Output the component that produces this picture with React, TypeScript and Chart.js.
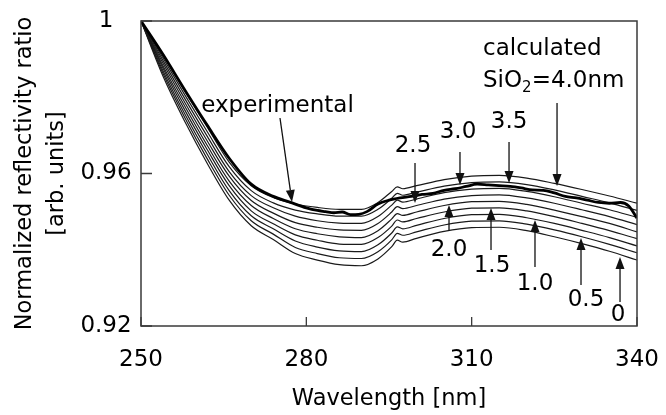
import React, { useEffect, useRef } from 'react';
import { Chart, registerables } from 'chart.js';

Chart.register(...registerables);

const FONT = '"DejaVu Sans", "Liberation Sans", sans-serif';

// Wavelength grid of the calculated curves (nm)
const wavelengthCalc = [250, 254, 258, 262, 266, 270, 274, 278, 282, 286, 290, 293, 295.5, 296.5, 297.5, 300, 305, 310, 315, 320, 325, 330, 335, 340];

// Calculated curves, SiO2 thickness 0 ... 4.0 nm
const calc00 = [1.0, 0.9855, 0.9735, 0.9627, 0.9530, 0.9463, 0.9427, 0.9390, 0.9373, 0.9361, 0.9358, 0.9376, 0.9408, 0.9425, 0.9420, 0.9430, 0.9448, 0.9458, 0.9459, 0.9450, 0.9434, 0.9416, 0.9396, 0.9373];
const calc05 = [1.0, 0.9862, 0.9745, 0.9639, 0.9543, 0.9476, 0.9441, 0.9406, 0.9390, 0.9379, 0.9377, 0.9395, 0.9426, 0.9443, 0.9438, 0.9447, 0.9465, 0.9475, 0.9476, 0.9467, 0.9452, 0.9434, 0.9414, 0.9392];
const calc10 = [1.0, 0.9869, 0.9755, 0.9651, 0.9555, 0.9489, 0.9455, 0.9423, 0.9407, 0.9397, 0.9395, 0.9413, 0.9444, 0.9460, 0.9455, 0.9464, 0.9482, 0.9492, 0.9493, 0.9484, 0.9469, 0.9451, 0.9432, 0.9410];
const calc15 = [1.0, 0.9876, 0.9765, 0.9663, 0.9568, 0.9502, 0.9468, 0.9439, 0.9425, 0.9415, 0.9414, 0.9432, 0.9462, 0.9478, 0.9473, 0.9482, 0.9499, 0.9509, 0.9510, 0.9502, 0.9487, 0.9469, 0.9450, 0.9429];
const calc20 = [1.0, 0.9882, 0.9775, 0.9674, 0.9580, 0.9516, 0.9482, 0.9455, 0.9442, 0.9434, 0.9432, 0.9450, 0.9481, 0.9495, 0.9490, 0.9499, 0.9516, 0.9526, 0.9527, 0.9519, 0.9504, 0.9487, 0.9469, 0.9447];
const calc25 = [1.0, 0.9889, 0.9785, 0.9686, 0.9593, 0.9529, 0.9496, 0.9471, 0.9459, 0.9452, 0.9451, 0.9469, 0.9499, 0.9513, 0.9508, 0.9516, 0.9533, 0.9542, 0.9544, 0.9536, 0.9522, 0.9505, 0.9487, 0.9466];
const calc30 = [1.0, 0.9896, 0.9795, 0.9698, 0.9605, 0.9542, 0.9510, 0.9488, 0.9476, 0.9470, 0.9469, 0.9487, 0.9517, 0.9530, 0.9525, 0.9533, 0.9550, 0.9559, 0.9561, 0.9553, 0.9539, 0.9522, 0.9505, 0.9485];
const calc35 = [1.0, 0.9903, 0.9805, 0.9710, 0.9618, 0.9555, 0.9523, 0.9504, 0.9494, 0.9488, 0.9488, 0.9506, 0.9535, 0.9548, 0.9543, 0.9551, 0.9567, 0.9576, 0.9578, 0.9571, 0.9557, 0.9540, 0.9523, 0.9503];
const calc40 = [1.0, 0.9910, 0.9815, 0.9722, 0.9630, 0.9568, 0.9537, 0.9520, 0.9511, 0.9506, 0.9506, 0.9524, 0.9553, 0.9565, 0.9560, 0.9568, 0.9584, 0.9593, 0.9595, 0.9588, 0.9574, 0.9558, 0.9541, 0.9522];

// Experimental curve
const wavelengthExp = [250, 254, 258, 262, 266, 270, 274, 277, 280, 282, 283.5, 285, 286.5, 288, 289.5, 291, 293, 295, 297, 299, 301, 303, 305, 307, 309, 311, 313, 315, 317, 319, 321, 323, 325, 327, 329, 331, 333, 335, 337, 338.5, 340];
const experimental = [1.0, 0.9912, 0.9818, 0.9727, 0.9640, 0.9572, 0.9540, 0.9525, 0.9510, 0.9503, 0.9500, 0.9497, 0.9499, 0.9492, 0.9493, 0.9500, 0.9520, 0.9530, 0.9536, 0.9540, 0.9545, 0.9548, 0.9556, 0.9560, 0.9566, 0.9572, 0.9570, 0.9568, 0.9566, 0.9562, 0.9557, 0.9556, 0.9549, 0.9540, 0.9536, 0.9530, 0.9524, 0.9522, 0.9524, 0.9515, 0.9483];

const calcSeries = [calc00, calc05, calc10, calc15, calc20, calc25, calc30, calc35, calc40];

// Axis ticks
const xTicks = [250, 280, 310, 340];
const yTicks = [0.92, 0.96, 1];
const xTickLabels = ['250', '280', '310', '340'];
const yTickLabels = ['0.92', '0.96', '1'];

// Annotation texts
const labelTexts = ['experimental', '2.5', '3.0', '3.5', '2.0', '1.5', '1.0', '0.5', '0'];
const labelX = [274.77, 299.36, 307.52, 316.78, 305.89, 313.69, 321.49, 330.75, 336.55];
const labelY = [0.97613, 0.96564, 0.96931, 0.97193, 0.93836, 0.93416, 0.92944, 0.92525, 0.92131];

// Arrows: start (x1,y1) -> tip (x2,y2)
const arrowX1 = [275.22, 299.72, 307.88, 316.78, 325.49, 305.89, 313.51, 321.49, 329.84, 336.92];
const arrowY1 = [0.97456, 0.96275, 0.96564, 0.96826, 0.97849, 0.94492, 0.93993, 0.93547, 0.93075, 0.92630];
const arrowX2 = [277.40, 299.72, 307.88, 316.78, 325.49, 305.89, 313.51, 321.49, 329.84, 336.92];
const arrowY2 = [0.95252, 0.95226, 0.95698, 0.95751, 0.95672, 0.95174, 0.95095, 0.94780, 0.94308, 0.93810];

const calcLabelX = 312.06;
const calcLine1Y = 0.99108;
const calcLine2Y = 0.98269;

function drawArrow(ctx: CanvasRenderingContext2D, x1: number, y1: number, x2: number, y2: number) {
  const ang = Math.atan2(y2 - y1, x2 - x1);
  const head = 12;
  const half = 4.5;
  const bx = x2 - head * Math.cos(ang);
  const by = y2 - head * Math.sin(ang);
  ctx.beginPath();
  ctx.moveTo(x1, y1);
  ctx.lineTo(bx, by);
  ctx.stroke();
  ctx.beginPath();
  ctx.moveTo(x2, y2);
  ctx.lineTo(bx + half * Math.sin(ang), by - half * Math.cos(ang));
  ctx.lineTo(bx - half * Math.sin(ang), by + half * Math.cos(ang));
  ctx.closePath();
  ctx.fill();
}

const annotationPlugin = {
  id: 'annotations',
  afterDatasetsDraw(chart: any) {
    const { ctx, chartArea, scales } = chart;
    const xs = scales.x;
    const ys = scales.y;
    ctx.save();
    // frame
    ctx.strokeStyle = '#3a3a3a';
    ctx.lineWidth = 1.5;
    ctx.strokeRect(chartArea.left, chartArea.top, chartArea.right - chartArea.left, chartArea.bottom - chartArea.top);
    // inward tick marks at the scale ticks
    ctx.lineWidth = 1.3;
    ctx.beginPath();
    xs.ticks.forEach((t: any) => {
      const px = xs.getPixelForValue(t.value);
      ctx.moveTo(px, chartArea.bottom);
      ctx.lineTo(px, chartArea.bottom - 9);
    });
    ys.ticks.forEach((t: any) => {
      const py = ys.getPixelForValue(t.value);
      ctx.moveTo(chartArea.left, py);
      ctx.lineTo(chartArea.left + 11, py);
    });
    ctx.stroke();

    ctx.strokeStyle = '#111';
    ctx.fillStyle = '#111';
    ctx.lineWidth = 1.3;
    for (let i = 0; i < arrowX1.length; i++) {
      drawArrow(
        ctx,
        xs.getPixelForValue(arrowX1[i]),
        ys.getPixelForValue(arrowY1[i]),
        xs.getPixelForValue(arrowX2[i]),
        ys.getPixelForValue(arrowY2[i])
      );
    }

    ctx.fillStyle = '#000';
    ctx.font = `23px ${FONT}`;
    ctx.textAlign = 'center';
    ctx.textBaseline = 'alphabetic';
    for (let i = 0; i < labelTexts.length; i++) {
      ctx.fillText(labelTexts[i], xs.getPixelForValue(labelX[i]), ys.getPixelForValue(labelY[i]));
    }

    // "calculated" / "SiO2=4.0nm"
    ctx.textAlign = 'left';
    const x0 = xs.getPixelForValue(calcLabelX);
    const b1 = ys.getPixelForValue(calcLine1Y);
    const b2 = ys.getPixelForValue(calcLine2Y);
    ctx.fillText('calculated', x0, b1);
    ctx.fillText('SiO', x0, b2);
    const w1 = ctx.measureText('SiO').width;
    ctx.font = `15px ${FONT}`;
    ctx.fillText('2', x0 + w1, b2 + 5);
    const w2 = ctx.measureText('2').width;
    ctx.font = `23px ${FONT}`;
    ctx.fillText('=4.0nm', x0 + w1 + w2, b2);
    ctx.restore();
  },
};

export default function App() {
  const canvasRef = useRef<HTMLCanvasElement | null>(null);

  useEffect(() => {
    document.body.style.margin = '0';
    const canvas = canvasRef.current;
    if (!canvas) return;

    const datasets: any[] = [
      {
        label: 'experimental',
        data: wavelengthExp.map((x, i) => ({ x, y: experimental[i] })),
        borderColor: '#000',
        borderWidth: 2.8,
        pointRadius: 0,
        cubicInterpolationMode: 'monotone',
        fill: false,
      },
    ];
    calcSeries.forEach((vals, k) => {
      datasets.push({
        label: `calculated ${(k * 0.5).toFixed(1)} nm`,
        data: wavelengthCalc.map((x, i) => ({ x, y: vals[i] })),
        borderColor: '#1a1a1a',
        borderWidth: 1.2,
        pointRadius: 0,
        cubicInterpolationMode: 'monotone',
        fill: false,
      });
    });

    const chart = new Chart(canvas, {
      type: 'line',
      data: { datasets },
      options: {
        animation: false,
        responsive: false,
        maintainAspectRatio: false,
        layout: { padding: { left: 0, top: 21, right: 29, bottom: 0 } },
        plugins: { legend: { display: false }, tooltip: { enabled: false } },
        elements: { point: { radius: 0 } },
        scales: {
          x: {
            type: 'linear',
            min: 250,
            max: 340,
            afterBuildTicks: (s: any) => {
              s.ticks = xTicks.map((v) => ({ value: v }));
            },
            afterFit: (s: any) => {
              s.height = 89;
            },
            border: { display: false },
            grid: { drawOnChartArea: false, drawTicks: true, tickLength: 20, tickColor: 'rgba(0,0,0,0)' },
            ticks: {
              padding: 0.2,
              color: '#000',
              font: { family: FONT, size: 23 },
              maxRotation: 0,
              callback: (v: any) => {
                const i = xTicks.indexOf(Number(v));
                return i >= 0 ? xTickLabels[i] : '';
              },
            },
            title: {
              display: true,
              text: 'Wavelength [nm]',
              color: '#000',
              font: { family: FONT, size: 22.5 },
              padding: { top: 0, bottom: 2.5 },
            },
          },
          y: {
            type: 'linear',
            min: 0.92,
            max: 1,
            afterBuildTicks: (s: any) => {
              s.ticks = yTicks.map((v) => ({ value: v }));
            },
            afterFit: (s: any) => {
              s.width = 141;
            },
            border: { display: false },
            grid: { drawOnChartArea: false, drawTicks: true, tickLength: 9.4, tickColor: 'rgba(0,0,0,0)' },
            ticks: {
              padding: 0,
              crossAlign: 'center',
              color: '#000',
              font: { family: FONT, size: 23 },
              callback: (v: any) => {
                const i = yTicks.findIndex((t) => Math.abs(t - Number(v)) < 1e-6);
                return i >= 0 ? yTickLabels[i] : '';
              },
            },
            title: {
              display: true,
              text: ['Normalized reflectivity ratio', '[arb. units]'],
              color: '#000',
              font: { family: FONT, size: 22.5, lineHeight: 1.422 },
              padding: { top: 9, bottom: 0 },
            },
          },
        },
      },
      plugins: [annotationPlugin],
    });

    return () => chart.destroy();
  }, []);

  return (
    <div style={{ width: 666, height: 415, position: 'relative', background: '#fff' }}>
      <canvas ref={canvasRef} width={666} height={415} style={{ display: 'block' }} />
    </div>
  );
}
